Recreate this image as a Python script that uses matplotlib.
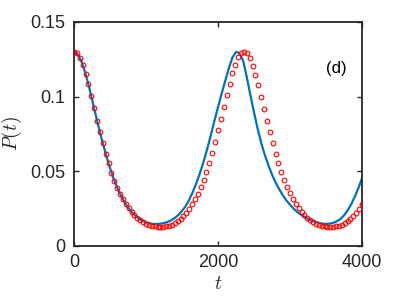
import numpy as np
import matplotlib
matplotlib.use("Agg")
import matplotlib.pyplot as plt

# ---- data ----
t_red = list(range(0, 4001, 40))
p_red = [0.1300, 0.1290, 0.1262, 0.1215, 0.1152, 0.1082, 0.1002, 0.0922, 0.0840, 0.0762,
         0.0688, 0.0617, 0.0553, 0.0492, 0.0438, 0.0391, 0.0350, 0.0313, 0.0281, 0.0253,
         0.0228, 0.0206, 0.0188, 0.0172, 0.0159, 0.0149, 0.0141, 0.0136, 0.0132, 0.0130,
         0.0129, 0.0129, 0.0131, 0.0135, 0.0142, 0.0152, 0.0165, 0.0181, 0.0201, 0.0224,
         0.0250, 0.0280, 0.0313, 0.0350, 0.0393, 0.0442, 0.0495, 0.0556, 0.0625, 0.0698,
         0.0775, 0.0853, 0.0932, 0.1010, 0.1085, 0.1155, 0.1215, 0.1263, 0.1292, 0.1301,
         0.1290, 0.1258, 0.1208, 0.1146, 0.1076, 0.0998, 0.0918, 0.0838, 0.0762, 0.0689,
         0.0619, 0.0555, 0.0495, 0.0441, 0.0394, 0.0352, 0.0314, 0.0282, 0.0254, 0.0229,
         0.0207, 0.0189, 0.0173, 0.0160, 0.0150, 0.0142, 0.0136, 0.0132, 0.0130, 0.0129,
         0.0129, 0.0131, 0.0135, 0.0142, 0.0152, 0.0165, 0.0181, 0.0201, 0.0224, 0.0250,
         0.0280]

t_blue = list(range(0, 4001, 50))
p_blue = [0.1300, 0.1285, 0.1240, 0.1170, 0.1082, 0.0982, 0.0880, 0.0781, 0.0688, 0.0601,
          0.0522, 0.0450, 0.0391, 0.0340, 0.0296, 0.0259, 0.0228, 0.0203, 0.0184, 0.0169,
          0.0159, 0.0152, 0.0148, 0.0147, 0.0149, 0.0154, 0.0161, 0.0172, 0.0188, 0.0208,
          0.0235, 0.0266, 0.0310, 0.0362, 0.0422, 0.0490, 0.0565, 0.0650, 0.0742, 0.0838,
          0.0930, 0.1020, 0.1105, 0.1190, 0.1262, 0.1300, 0.1290, 0.1238, 0.1130, 0.1010,
          0.0895, 0.0785, 0.0690, 0.0610, 0.0540, 0.0478, 0.0425, 0.0380, 0.0340, 0.0305,
          0.0276, 0.0250, 0.0228, 0.0210, 0.0195, 0.0182, 0.0170, 0.0162, 0.0155, 0.0150,
          0.0148, 0.0150, 0.0155, 0.0165, 0.0180, 0.0205, 0.0238, 0.0280, 0.0330, 0.0388,
          0.0453]

x_ticks = [0, 2000, 4000]
x_ticklabels = ["0", "2000", "4000"]
y_ticks = [0, 0.05, 0.1, 0.15]
y_ticklabels = ["0", "0.05", "0.1", "0.15"]
panel_label = "(d)"

# ---- style ----
plt.rcParams['font.family'] = ['Liberation Sans', 'DejaVu Sans']
plt.rcParams['mathtext.fontset'] = 'cm'

fig = plt.figure(figsize=(3.99, 2.99), dpi=100)
ax = fig.add_axes([0.1855, 0.1773, 0.7218, 0.7492])

ax.plot(t_blue, p_blue, color='#0072BD', lw=1.6, zorder=2)
ax.plot(t_red, p_red, linestyle='none', marker='o', markersize=3.4,
        markerfacecolor='none', markeredgecolor='#FF0000', markeredgewidth=0.8, zorder=3)

ax.set_xlim(0, 4000)
ax.set_ylim(0, 0.15)
ax.set_xticks(x_ticks)
ax.set_xticklabels(x_ticklabels)
ax.set_yticks(y_ticks)
ax.set_yticklabels(y_ticklabels)
ax.tick_params(direction='in', top=True, right=True, length=3.5, width=1.0,
               colors='#262626', labelsize=13, pad=6)
for s in ax.spines.values():
    s.set_linewidth(1.3)
    s.set_color('#262626')

ax.set_ylabel(r'$P(t)$', fontsize=14, color='#262626', va='center')
ax.set_xlabel(r'$t$', fontsize=14, color='#262626', va='center')
ax.yaxis.set_label_coords(-0.215, 0.5)
ax.xaxis.set_label_coords(0.5, -0.17)

ax.text(3640, 0.119, panel_label, fontsize=12, ha='center', va='center', color='black')

fig.savefig('out.png', dpi=100)
